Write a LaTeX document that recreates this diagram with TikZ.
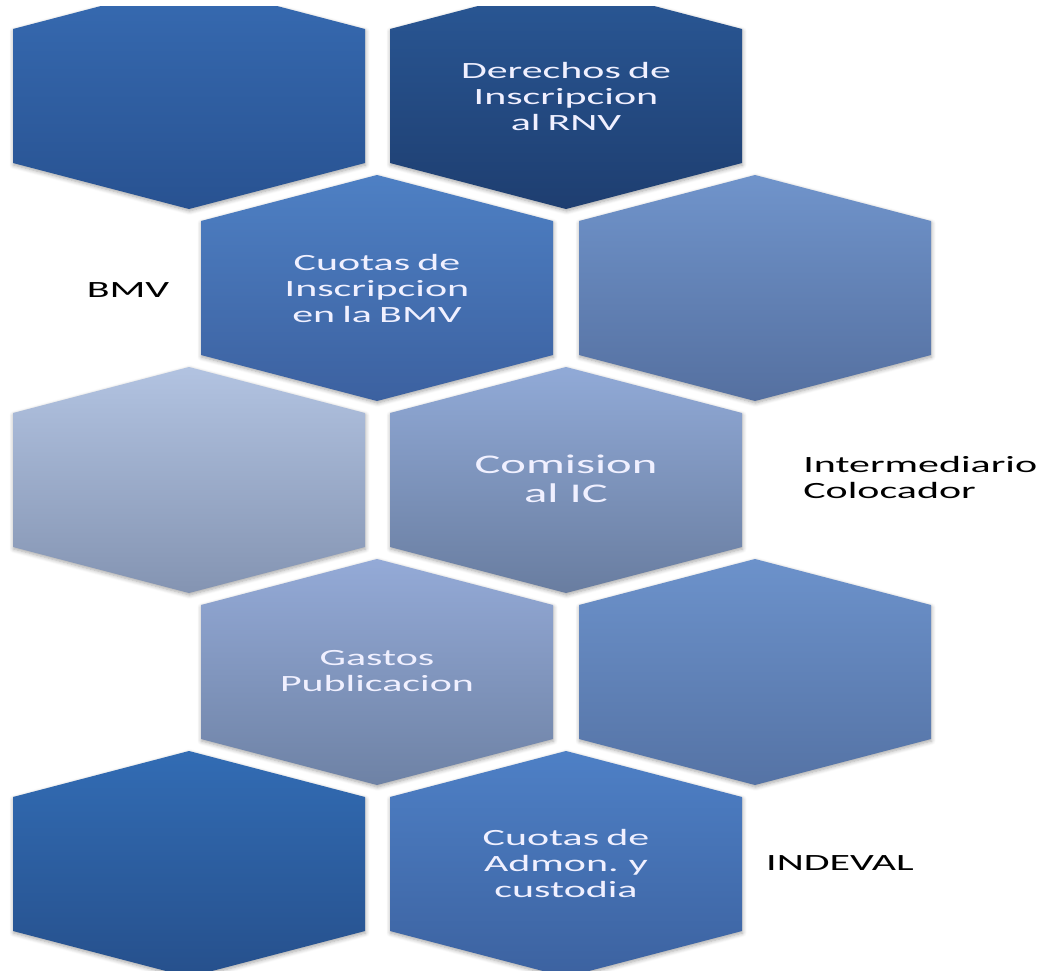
\documentclass[tikz,border=0pt]{standalone}
\usepackage{fontspec}
\setmainfont{Carlito}
\usetikzlibrary{shadows.blur}

\definecolor{rowAa}{RGB}{55,107,178}
\definecolor{rowAb}{RGB}{40,82,145}
\definecolor{rowBa}{RGB}{42,88,150}
\definecolor{rowBb}{RGB}{30,62,112}
\definecolor{rowCa}{RGB}{78,128,196}
\definecolor{rowCb}{RGB}{60,97,160}
\definecolor{rowDa}{RGB}{112,148,203}
\definecolor{rowDb}{RGB}{85,112,160}
\definecolor{rowEa}{RGB}{178,195,225}
\definecolor{rowEb}{RGB}{132,148,178}
\definecolor{rowFa}{RGB}{145,170,215}
\definecolor{rowFb}{RGB}{105,125,160}
\definecolor{rowGa}{RGB}{148,170,215}
\definecolor{rowGb}{RGB}{110,130,165}
\definecolor{rowHa}{RGB}{108,146,203}
\definecolor{rowHb}{RGB}{85,115,165}
\definecolor{rowIa}{RGB}{50,108,180}
\definecolor{rowIb}{RGB}{38,80,140}
\definecolor{rowJa}{RGB}{78,128,198}
\definecolor{rowJb}{RGB}{60,98,160}

\newcommand{\hexfont}{\fontsize{23.3}{26}\selectfont\spaceskip=0.17em\relax}

\begin{document}
\begin{tikzpicture}[x=1pt, y=-1pt]
\tikzstyle{hex}=[blur shadow={shadow xshift=0.5pt, shadow yshift=-2pt, shadow blur radius=4pt, shadow blur steps=6, shadow opacity=35}]
\tikzstyle{inside}=[text=white!94!blue, align=center, xscale=1.8, inner sep=0pt, font=\hexfont]
\tikzstyle{outside}=[text=black, align=left, xscale=1.8, inner sep=0pt, font=\fontsize{23.3}{26}\selectfont]
\useasboundingbox (0,0) rectangle (1044,971);

% honeycomb, cut at the top and bottom
\begin{scope}
\clip (0,7) rectangle (1044,971);
\foreach \cx/\cy/\ct/\cb in {189/96/rowAa/rowAb, 566/96/rowBa/rowBb,
    377/288/rowCa/rowCb, 755/288/rowDa/rowDb,
    189/480/rowEa/rowEb, 566/480/rowFa/rowFb,
    377/672/rowGa/rowGb, 755/672/rowHa/rowHb,
    189/864/rowIa/rowIb, 566/864/rowJa/rowJb}
  \path[hex, top color=\ct, bottom color=\cb] (\cx,\cy-113) -- ++(176,46) -- ++(0,134)
    -- ++(-176,46) -- ++(-176,-46) -- ++(0,-134) -- cycle;
\end{scope}

\node[inside] (rnv) at (566,96) {Derechos de\\Inscripcion\\al RNV};
\node[inside] (listing) at (377,288) {Cuotas de\\Inscripcion\\en la BMV};
\node[inside, font=\fontsize{27}{29}\selectfont] (ic) at (566,479) {Comision\\al IC};
\node[inside] (pub) at (377,671) {Gastos\\Publicacion};
\node[inside] (custody) at (566,863) {Cuotas de\\Admon. y\\custodia};

\node[outside] (bmv) at (128,290) {BMV};
\node[outside, anchor=west] (placer) at (803,477) {Intermediario\\Colocador};
\node[outside] (indeval) at (840,863) {INDEVAL};
\end{tikzpicture}
\end{document}
